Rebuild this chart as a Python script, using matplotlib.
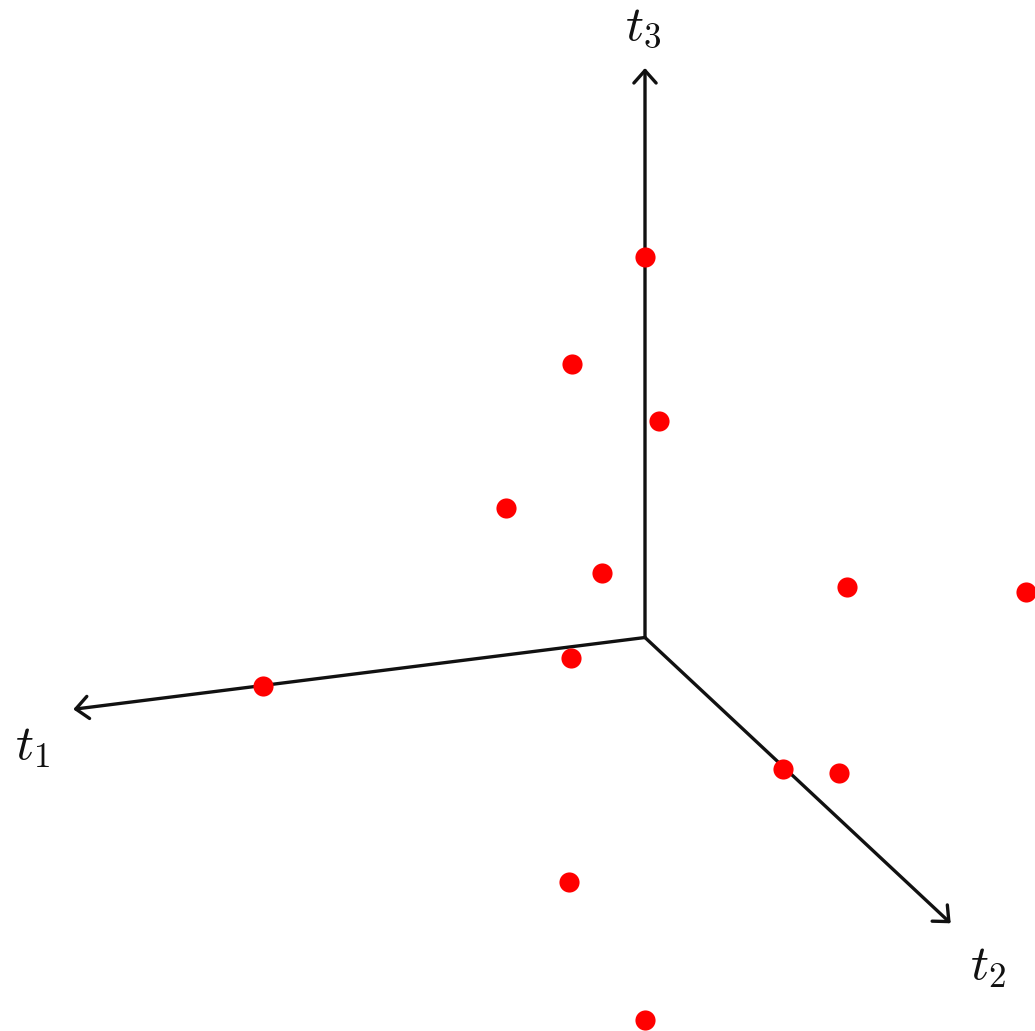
import matplotlib
matplotlib.use("Agg")
import matplotlib.pyplot as plt

# screen-plane coordinates of the projected scene (origin = where the axes meet)
axis_names = ["$t_1$", "$t_2$", "$t_3$"]
axis_tip_x = [-571.7, 305.7, 0.0]
axis_tip_y = [-71.8, -285.8, 569.5]
label_x = [-613.0, 343.0, -2.0]
label_y = [-108.0, -328.0, 612.0]

point_x = [0.0, -73.3, 14.3, -139.0, -42.7, 201.7, 381.0,
           -74.0, -381.7, 138.3, 194.3, -76.0, 0.0]
point_y = [380.2, 273.5, 216.8, 129.2, 64.2, 50.8, 45.8,
           -20.8, -48.2, -131.8, -135.8, -244.2, -382.5]

plt.rcParams["mathtext.fontset"] = "cm"

fig = plt.figure(figsize=(10.35, 10.31), dpi=100)
ax = fig.add_axes([0, 0, 1, 1])
ax.set_xlim(-645, 390)
ax.set_ylim(-393.5, 637.5)
ax.set_axis_off()

for tx, ty in zip(axis_tip_x, axis_tip_y):
    ax.annotate("", xy=(tx, ty), xytext=(0, 0),
                arrowprops=dict(arrowstyle="->,head_length=0.45,head_width=0.4",
                                lw=2.4, color="#111111", shrinkA=0, shrinkB=0,
                                mutation_scale=20))

for name, lx, ly in zip(axis_names, label_x, label_y):
    ax.text(lx, ly, name, fontsize=36, ha="center", va="center", color="#111111")

ax.plot(point_x, point_y, "o", color="#ff0000", markersize=14.5,
        markeredgewidth=0, clip_on=False, zorder=3)

fig.savefig("out.png", dpi=100)
